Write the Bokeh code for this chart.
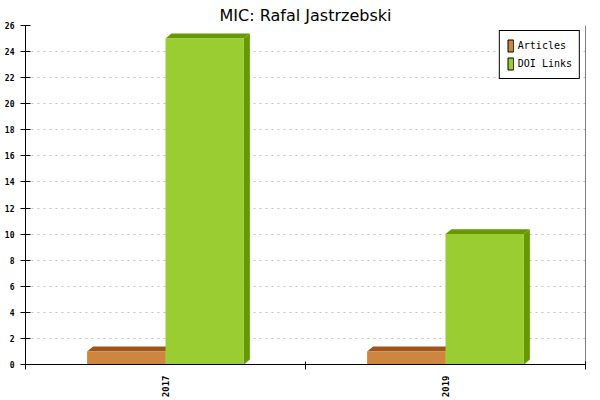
from bokeh.plotting import figure
from bokeh.models import Range1d, FixedTicker, Span, Legend, LegendItem
from bokeh.embed import file_html
from bokeh.resources import INLINE

# ---- data ----
categories = ["2017", "2019"]
articles = [1, 1]
doi_links = [25, 10]
y_ticks = [0, 2, 4, 6, 8, 10, 12, 14, 16, 18, 20, 22, 24, 26]
series_names = ["Articles", "DOI Links"]

# ---- style ----
front_colors = ["#CD853F", "#9ACD32"]
dark_colors = ["#A0541A", "#669900"]
bar_w = 0.28
dx = 0.0214   # 3D depth (x, data units)
dy = 0.38     # 3D depth (y, data units)

p = figure(width=600, height=400, output_backend="svg", toolbar_location=None,
           x_range=Range1d(0, len(categories)), y_range=Range1d(0, 26),
           title="MIC: Rafal Jastrzebski",
           min_border_left=25, min_border_right=15, min_border_top=25, min_border_bottom=34)

p.title.align = "center"
p.title.text_font = "DejaVu Sans"
p.title.text_font_size = "16px"
p.title.text_font_style = "normal"
p.title.text_color = "#000000"
p.title.standoff = 2
p.outline_line_color = None

centers = [i + 0.5 for i in range(len(categories))]

legend_items = []
for s, vals in enumerate([articles, doi_links]):
    xs_front = [c + (s - 1) * bar_w + bar_w / 2 for c in centers]
    top_xs, top_ys, side_xs, side_ys = [], [], [], []
    for x, v in zip(xs_front, vals):
        x0, x1 = x - bar_w / 2, x + bar_w / 2
        top_xs.append([x0, x0 + dx, x1 + dx, x1])
        top_ys.append([v, v + dy, v + dy, v])
        side_xs.append([x1, x1 + dx, x1 + dx, x1])
        side_ys.append([v, v + dy, dy, 0])
    p.patches(top_xs, top_ys, fill_color=dark_colors[s], line_color=None)
    p.patches(side_xs, side_ys, fill_color=dark_colors[s], line_color=None)
    p.vbar(x=xs_front, top=vals, bottom=0, width=bar_w,
           fill_color=front_colors[s], line_color=None)
    # legend swatch renderer (zero-size marks, only used for the legend)
    swatch = p.vbar(x=xs_front, top=[0] * len(vals), bottom=0, width=0,
                    fill_color=front_colors[s], line_color="black", line_width=1)
    legend_items.append(LegendItem(label=series_names[s], renderers=[swatch]))

# grid
p.xgrid.visible = False
p.ygrid.grid_line_color = "#C0C0C0"
p.ygrid.grid_line_dash = "2 4"
p.ygrid.ticker = FixedTicker(ticks=y_ticks)

# x axis
xa = p.xaxis[0]
xa.ticker = FixedTicker(ticks=centers, minor_ticks=list(range(len(categories) + 1)))
xa.major_label_overrides = {c: lab for c, lab in zip(centers, categories)}
xa.major_tick_in = 0
xa.major_tick_out = 0
xa.minor_tick_in = 3
xa.minor_tick_out = 5
xa.minor_tick_line_color = "black"
xa.axis_line_color = "black"
xa.major_label_orientation = 1.5707963
xa.major_label_text_font = "DejaVu Sans Mono"
xa.major_label_text_font_size = "9px"
xa.major_label_text_font_style = "bold"
xa.major_label_text_color = "black"
xa.major_label_standoff = 6

# y axis
ya = p.yaxis[0]
ya.ticker = FixedTicker(ticks=y_ticks)
ya.major_tick_in = 5
ya.major_tick_out = 5
ya.minor_tick_line_color = None
ya.axis_line_color = "black"
ya.major_label_text_font = "DejaVu Sans Mono"
ya.major_label_text_font_size = "8px"
ya.major_label_text_font_style = "bold"
ya.major_label_text_color = "black"
ya.major_label_standoff = 6

p.add_layout(Span(location=len(categories), dimension="height", line_color="black", line_width=1))

legend = Legend(items=legend_items, location="top_right")
legend.border_line_color = "black"
legend.border_line_width = 1
legend.border_line_alpha = 1
legend.background_fill_color = "white"
legend.background_fill_alpha = 1
legend.label_text_font = "DejaVu Sans Mono"
legend.label_text_font_size = "10px"
legend.label_text_color = "black"
legend.glyph_width = 7
legend.glyph_height = 15
legend.padding = 7
legend.spacing = 3
legend.label_standoff = 4
legend.margin = 5
legend.label_height = 15
p.add_layout(legend)

open("out.html", "w").write(file_html(p, INLINE))
